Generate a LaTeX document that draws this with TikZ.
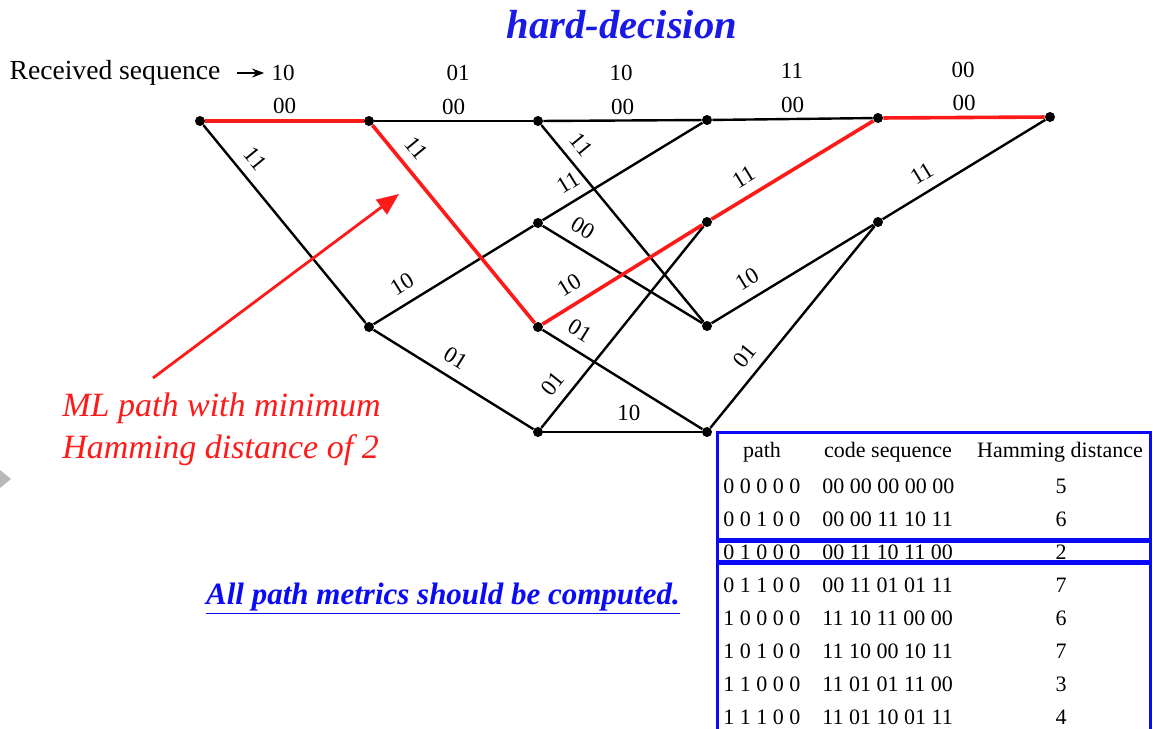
\documentclass[tikz,border=0pt]{standalone}
\usepackage{fontspec}
\setmainfont{Liberation Serif}
\usepackage{tikz}
\usetikzlibrary{arrows.meta,positioning,calc}
\definecolor{ttl}{HTML}{1A1AE6}
\definecolor{mlred}{HTML}{FF1A1A}
\definecolor{tbl}{HTML}{0A0AF5}

\begin{document}
\begin{tikzpicture}[x=0.5pt,y=-0.5pt,
  dot/.style={circle,fill=black,inner sep=0pt,minimum size=5pt},
  br/.style={draw=black,line width=1.2pt},
  ml/.style={draw=mlred,line width=1.8pt},
  lb/.style={font=\fontsize{11.5}{12}\selectfont,inner sep=2.5pt},
  sl/.style={lb,sloped,above,inner sep=5pt},
  bx/.style={draw=tbl,line width=1.5pt},
  tb/.style={font=\fontsize{11}{13}\selectfont,inner sep=0pt}]
  \useasboundingbox (0,0) rectangle (1153,729);
  \clip (0,0) rectangle (1153,729);

  % title and received sequence
  \node[font=\fontsize{20.3}{24}\selectfont\bfseries\itshape,text=ttl] (ttl) at (622,25) {hard-decision};
  \node[font=\fontsize{13.8}{16}\selectfont,inner sep=0pt] (recv) at (115,73) {Received sequence};
  \node[lb] (r1) at (283,73) {10};
  \node[lb] (r2) at (458,73) {01};
  \node[lb] (r3) at (621,73) {10};
  \node[lb] (r4) at (792,71) {11};
  \node[lb] (r5) at (963,70) {00};
  \draw[-{Stealth[length=6pt,width=4.5pt]},line width=0.7pt,shorten <=8pt,shorten >=1pt] (recv.east) -- (r1.west);

  % trellis states
  \node[dot] (a0) at (200,121) {};
  \node[dot] (a1) at (369,121) {};
  \node[dot] (c1) at (369,327) {};
  \node[dot] (a2) at (538,121) {};
  \node[dot] (b2) at (538,223) {};
  \node[dot] (c2) at (538,327) {};
  \node[dot] (d2) at (538,432) {};
  \node[dot] (a3) at (707,120) {};
  \node[dot] (b3) at (707,222) {};
  \node[dot] (c3) at (707,326) {};
  \node[dot] (d3) at (707,432) {};
  \node[dot] (a4) at (878,118) {};
  \node[dot] (b4) at (878,222) {};
  \node[dot] (a5) at (1050,117) {};

  % branches
  \draw[br] (a0) -- node[sl,pos=0.23]{11} (c1);
  \draw[br] (a1) -- node[lb,above]{00} (a2);
  \draw[br] (c1) -- node[sl,pos=0.24]{10} (b2);
  \draw[br] (c1) -- node[sl,pos=0.45]{01} (d2);
  \draw[br] (a2) -- node[lb,above]{00} (a3);
  \draw[br] (a2) -- node[sl,pos=0.16]{11} (c3);
  \draw[br] (b2) -- node[sl,pos=0.22]{11} (a3);
  \draw[br] (b2) -- node[sl,pos=0.19]{00} (c3);
  \draw[br] (c2) -- node[sl,pos=0.17]{01} (d3);
  \draw[br] (d2) -- node[sl,pos=0.16]{01} (b3);
  \draw[br] (d2) -- node[lb,above,pos=0.54,inner sep=5pt]{10} (d3);
  \draw[br] (a3) -- node[lb,above]{00} (a4);
  \draw[br] (c3) -- node[sl,pos=0.28]{10} (b4);
  \draw[br] (d3) -- node[sl,pos=0.30]{01} (b4);
  \draw[br] (b4) -- node[sl,pos=0.30]{11} (a5);

  % ML path
  \draw[ml] (a0) -- node[lb,above]{00} (a1);
  \draw[ml] (a1) -- node[sl,pos=0.18]{11} (c2);
  \draw[ml] (c2) -- node[sl,pos=0.23]{10} (b3);
  \draw[ml] (b3) -- node[sl,pos=0.26]{11} (a4);
  \draw[ml] (a4) -- node[lb,above]{00} (a5);

  % annotation
  \node[font=\fontsize{17}{21}\selectfont\itshape,text=mlred,align=left,anchor=north west,inner sep=0pt] (mltxt) at (62,393) {ML path with minimum\\Hamming distance of 2};
  \coordinate (mlt) at (153,378);
  \coordinate (mlh) at (399,194);
  \draw[mlred,line width=1.4pt,-{Triangle[length=11pt,width=9pt]}] (mlt) -- (mlh);
  \fill[gray!55] (0,470) -- (11,479) -- (0,488) -- cycle;
  \node[font=\fontsize{15.5}{18}\selectfont\bfseries\itshape,text=tbl] (note) at (443,599) {\underline{All path metrics should be computed.}};

  % table
  \draw[bx] (717,432) rectangle (1150,539);
  \draw[bx] (717,541) rectangle (1150,561);
  \draw[bx] (717,563) rectangle (1150,740);
  \node[tb] (hp) at (762,452) {path};
  \node[tb] (hc) at (888,452) {code sequence};
  \node[tb] (hh) at (1060,452) {Hamming distance};
  \foreach \pth/\cds/\hd [count=\i] in {0 0 0 0 0/00 00 00 00 00/5,
      0 0 1 0 0/00 00 11 10 11/6, 0 1 0 0 0/00 11 10 11 00/2,
      0 1 1 0 0/00 11 01 01 11/7, 1 0 0 0 0/11 10 11 00 00/6,
      1 0 1 0 0/11 10 00 10 11/7, 1 1 0 0 0/11 01 01 11 00/3,
      1 1 1 0 0/11 01 10 01 11/4} {
    \pgfmathsetmacro\ry{486+(\i-1)*33.1}
    \node[tb,anchor=west] (p\i) at (723,\ry) {\pth};
    \node[tb,anchor=west] (c\i) at (822,\ry) {\cds};
    \node[tb] (h\i) at (1061,\ry) {\hd};
  }
\end{tikzpicture}
\end{document}
